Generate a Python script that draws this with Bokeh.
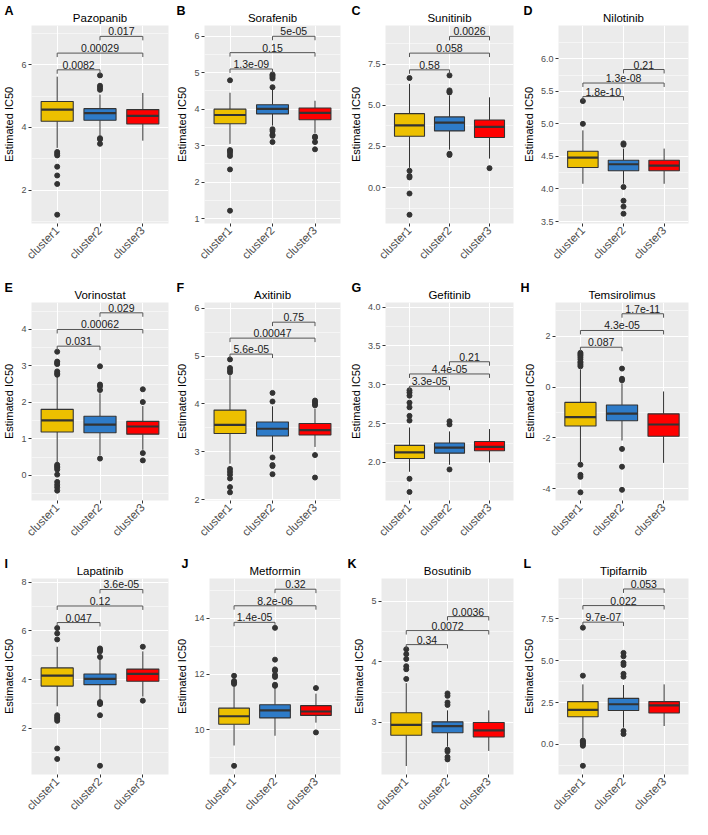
import math
from bokeh.plotting import figure
from bokeh.models import Range1d, FixedTicker, Title
from bokeh.layouts import column, row
from bokeh.embed import file_html
from bokeh.resources import INLINE
from bokeh.core.properties import value

# ---------------- data ----------------
DRUGS = ["Pazopanib", "Sorafenib", "Sunitinib", "Nilotinib",
         "Vorinostat", "Axitinib", "Gefitinib", "Temsirolimus",
         "Lapatinib", "Metformin", "Bosutinib", "Tipifarnib"]
LETTERS = ["A", "B", "C", "D", "E", "F", "G", "H", "I", "J", "K", "L"]
CLUSTERS = ["cluster1", "cluster2", "cluster3"]

Q1 = [[4.20, 4.23, 4.11], [3.60, 3.87, 3.71], [3.12, 3.44, 3.04], [4.33, 4.28, 4.28],
      [1.19, 1.17, 1.13], [3.38, 3.33, 3.35], [2.05, 2.12, 2.15], [-1.53, -1.32, -1.93],
      [3.73, 3.79, 3.93], [10.20, 10.43, 10.52], [2.79, 2.83, 2.76], [1.65, 2.03, 1.88]]
MEDIAN = [[4.57, 4.46, 4.37], [3.84, 4.01, 3.90], [3.78, 3.94, 3.68], [4.48, 4.38, 4.36],
          [1.51, 1.39, 1.34], [3.56, 3.48, 3.45], [2.13, 2.19, 2.20], [-1.18, -1.04, -1.47],
          [4.16, 4.03, 4.23], [10.49, 10.70, 10.66], [2.96, 2.94, 2.87], [2.07, 2.40, 2.33]]
Q3 = [[4.83, 4.60, 4.57], [4.00, 4.12, 4.03], [4.49, 4.29, 4.10], [4.58, 4.44, 4.44],
      [1.81, 1.62, 1.48], [3.87, 3.62, 3.59], [2.22, 2.25, 2.27], [-0.60, -0.70, -1.05],
      [4.48, 4.23, 4.43], [10.78, 10.90, 10.87], [3.16, 3.01, 3.00], [2.56, 2.75, 2.56]]
WHISK_LO = [[3.35, 3.75, 3.58], [3.05, 3.55, 3.35], [1.20, 2.30, 1.76], [4.08, 4.08, 4.08],
            [0.35, 0.55, 0.70], [2.75, 3.00, 3.10], [1.88, 1.97, 2.00], [-2.95, -2.10, -2.98],
            [2.90, 3.15, 3.30], [9.44, 9.79, 10.26], [2.28, 2.60, 2.53], [0.40, 1.00, 1.10]]
WHISK_HI = [[5.62, 5.05, 5.10], [4.45, 4.55, 4.23], [6.30, 5.60, 5.48], [4.90, 4.62, 4.62],
            [2.70, 2.25, 1.90], [4.60, 3.95, 3.90], [2.45, 2.40, 2.43], [0.70, 0.15, -0.17],
            [5.35, 4.85, 5.16], [11.55, 11.50, 11.30], [3.65, 3.20, 3.20], [3.59, 3.55, 3.59]]
OUTLIERS = [
    [[3.22, 3.16, 3.11, 2.75, 2.47, 2.20, 1.22], [5.66, 5.33, 5.27, 5.20, 3.66, 3.62, 3.48], []],
    [[4.79, 2.88, 2.85, 2.79, 2.72, 2.35, 1.22], [4.95, 4.92, 4.88, 4.84, 4.60, 3.45, 3.40, 3.30, 3.27, 3.10], [3.25, 3.22, 3.10, 2.90]],
    [[6.65, 1.02, 0.70, 0.62, -0.36, -1.65], [6.81, 5.90, 5.82, 5.78, 2.05, 1.98], [1.18]],
    [[5.35, 5.00], [4.70, 4.68, 4.03, 3.82, 3.73, 3.62], []],
    [[3.39, 3.12, 3.08, 3.05, 2.85, 2.80, 2.76, 0.29, 0.25, 0.21, 0.16, 0.02, -0.18, -0.26, -0.33, -0.42],
     [2.99, 2.49, 2.44, 2.34, 0.46], [2.36, 2.01, 0.61, 0.41]],
    [[4.93, 4.75, 4.70, 4.66, 2.64, 2.58, 2.52, 2.44, 2.26, 2.15], [4.23, 4.05, 2.88, 2.72, 2.70, 2.53], [4.07, 4.04, 4.00, 3.97, 2.93, 2.46]],
    [[2.93, 2.90, 2.86, 2.77, 2.71, 2.60, 2.54, 1.79, 1.62], [2.53, 2.49, 1.91], []],
    [[1.35, 1.30, 1.25, 1.18, 1.10, 1.00, 0.95, 0.88, 0.82, -3.05, -3.45, -3.53, -4.14], [0.73, 0.33, 0.27, -2.43, -3.13, -4.04], []],
    [[6.12, 5.90, 5.65, 2.53, 2.45, 2.38, 2.30, 1.16, 0.73], [5.28, 5.22, 5.16, 4.93, 3.07, 3.02, 2.99, 2.53, 0.45], [5.35, 3.13]],
    [[11.94, 11.75, 11.70, 11.65, 8.71], [13.66, 12.52, 12.17, 12.12, 11.97, 11.90, 11.62, 11.58], [11.50, 9.91]],
    [[4.21, 4.13, 4.05, 3.93, 3.88, 3.72], [3.48, 3.44, 3.33, 3.29, 2.55, 2.52, 2.43, 2.39], []],
    [[6.98, 4.11, 0.23, 0.17, 0.10, 0.02, -0.08, -1.28], [5.47, 5.27, 4.88, 4.75, 4.22, 4.05, 0.80, 0.62], []],
]
COMPARISONS = [(1, 2), (1, 3), (2, 3)]
PVALUES = [["0.0082", "0.00029", "0.017"], ["1.3e-09", "0.15", "5e-05"],
           ["0.58", "0.058", "0.0026"], ["1.8e-10", "1.3e-08", "0.21"],
           ["0.031", "0.00062", "0.029"], ["5.6e-05", "0.00047", "0.75"],
           ["3.3e-05", "4.4e-05", "0.21"], ["0.087", "4.3e-05", "1.7e-11"],
           ["0.047", "0.12", "3.6e-05"], ["1.4e-05", "8.2e-06", "0.32"],
           ["0.34", "0.0072", "0.0036"], ["9.7e-07", "0.022", "0.053"]]

YLIM = [(0.94, 7.25), (0.87, 6.29), (-2.18, 9.84), (3.47, 6.51),
        (-0.69, 4.74), (1.98, 6.12), (1.51, 4.06), (-4.46, 3.33),
        (0.09, 8.16), (8.40, 15.43), (2.14, 5.38), (-1.80, 9.92)]
YTICKS = [[2, 4, 6], [1, 2, 3, 4, 5, 6], [0, 2.5, 5, 7.5], [3.5, 4, 4.5, 5, 5.5, 6],
          [0, 1, 2, 3, 4], [2, 3, 4, 5, 6], [2, 2.5, 3, 3.5, 4], [-4, -2, 0, 2],
          [2, 4, 6, 8], [10, 12, 14], [3, 4, 5], [0, 2.5, 5, 7.5]]
YTICK_LABELS = [["2", "4", "6"], ["1", "2", "3", "4", "5", "6"], ["0.0", "2.5", "5.0", "7.5"],
                ["3.5", "4.0", "4.5", "5.0", "5.5", "6.0"], ["0", "1", "2", "3", "4"],
                ["2", "3", "4", "5", "6"], ["2.0", "2.5", "3.0", "3.5", "4.0"],
                ["-4", "-2", "0", "2"], ["2", "4", "6", "8"], ["10", "12", "14"],
                ["3", "4", "5"], ["0.0", "2.5", "5.0", "7.5"]]

# ---------------- style ----------------
FONT = "Liberation Sans"
COLORS = ["#EDC000", "#2E7BC8", "#FF0000"]
DARK = "#333333"
W, H = 173, 273
COL_LEFT = [28, 29, 35, 36]
COL_RIGHT = [5, 6, 6, 4]
ROW_TOP = [25, 29, 32]
ROW_BOTTOM = [50, 46, 43]
BOXW = 0.75


def make_panel(i):
    r, c = divmod(i, 4)
    lo, hi = YLIM[i]
    p = figure(width=W, height=H, output_backend="svg", toolbar_location=None,
               x_range=Range1d(0.4, 3.6), y_range=Range1d(lo, hi),
               min_border_left=COL_LEFT[c], min_border_right=COL_RIGHT[c],
               min_border_top=ROW_TOP[r], min_border_bottom=ROW_BOTTOM[r],
               title=None)
    p.background_fill_color = "#EBEBEB"
    p.border_fill_color = "white"
    p.outline_line_color = None

    # drug title (closest to the frame) and panel letter (outer, pulled down)
    p.add_layout(Title(text=DRUGS[i], align="center", text_font=FONT,
                       text_font_size="11.5px", text_font_style="normal",
                       text_color="black", standoff=4), "above")
    letter = Title(text=LETTERS[i], align="left", offset=-(COL_LEFT[c] - 1),
                   text_font=FONT, text_font_size="12.5px", text_font_style="bold",
                   text_color="black")
    try:
        letter.standoff = -20
    except ValueError:
        letter.standoff = 0
    p.add_layout(letter, "above")

    # grids
    yt = YTICKS[i]
    minors = [(a + b) / 2 for a, b in zip(yt[:-1], yt[1:])]
    step = yt[1] - yt[0]
    minors = [yt[0] - step / 2] + minors + [yt[-1] + step / 2]
    p.xgrid.ticker = FixedTicker(ticks=[1, 2, 3])
    p.ygrid.ticker = FixedTicker(ticks=yt, minor_ticks=minors)
    p.grid.grid_line_color = "white"
    p.grid.grid_line_width = 1.1
    p.ygrid.minor_grid_line_color = "white"
    p.ygrid.minor_grid_line_width = 0.5

    # axes
    p.xaxis.ticker = FixedTicker(ticks=[1, 2, 3])
    p.xaxis.major_label_overrides = {k + 1: CLUSTERS[k] for k in range(3)}
    p.xaxis.major_label_orientation = math.pi / 4
    p.yaxis.ticker = FixedTicker(ticks=yt)
    p.yaxis.major_label_overrides = {float(t): s for t, s in zip(yt, YTICK_LABELS[i])}
    p.axis.axis_line_color = None
    p.axis.major_tick_line_color = DARK
    p.axis.major_tick_in = 0
    p.axis.major_tick_out = 3
    p.axis.minor_tick_line_color = None
    p.axis.major_label_standoff = 2
    p.axis.major_label_text_font = FONT
    p.axis.major_label_text_color = "#4D4D4D"
    p.yaxis.major_label_text_font_size = "9px"
    p.xaxis.major_label_text_font_size = "11.5px"
    p.yaxis.axis_label = "Estimated IC50"
    p.yaxis.axis_label_text_font = FONT
    p.yaxis.axis_label_text_font_size = "11px"
    p.yaxis.axis_label_text_font_style = "normal"
    p.yaxis.axis_label_text_color = "black"
    p.yaxis.axis_label_standoff = 3

    xs = [1, 2, 3]
    # whiskers
    p.segment(x0=xs, x1=xs, y0=Q3[i], y1=WHISK_HI[i], line_color=DARK, line_width=1)
    p.segment(x0=xs, x1=xs, y0=Q1[i], y1=WHISK_LO[i], line_color=DARK, line_width=1)
    # boxes
    p.quad(left=[x - BOXW / 2 for x in xs], right=[x + BOXW / 2 for x in xs],
           bottom=Q1[i], top=Q3[i], fill_color=COLORS, line_color=DARK, line_width=1.1)
    p.segment(x0=[x - BOXW / 2 for x in xs], x1=[x + BOXW / 2 for x in xs],
              y0=MEDIAN[i], y1=MEDIAN[i], line_color=DARK, line_width=2.2)
    # outliers
    ox, oy = [], []
    for k in range(3):
        ox += [xs[k]] * len(OUTLIERS[i][k])
        oy += OUTLIERS[i][k]
    p.scatter(ox, oy, size=5, fill_color=DARK, line_color=DARK)

    # significance brackets (placed above the data like ggpubr)
    allv = [v for k in range(3) for v in OUTLIERS[i][k]] + WHISK_HI[i] + WHISK_LO[i]
    dmax, dmin = max(allv), min(allv)
    rng = dmax - dmin
    tip = 0.02 * (hi - lo)
    bx, by, tx, ty = [], [], [], []
    for k, (a, b) in enumerate(COMPARISONS):
        yb = dmax + rng * (0.04 + 0.12 * k)
        bx.append([a, a, b, b])
        by.append([yb - tip, yb, yb, yb - tip])
        tx.append((a + b) / 2)
        ty.append(yb)
    p.multi_line(bx, by, line_color="#555555", line_width=1)
    p.text(tx, ty, text=PVALUES[i], text_align="center", text_baseline="bottom",
           text_font=value(FONT), text_font_size="10.5px", text_color="#1A1A1A", y_offset=-1)
    return p


figs = [make_panel(i) for i in range(12)]
layout = column(*[row(*figs[r * 4:(r + 1) * 4]) for r in range(3)])
open("out.html", "w").write(file_html(layout, INLINE))
